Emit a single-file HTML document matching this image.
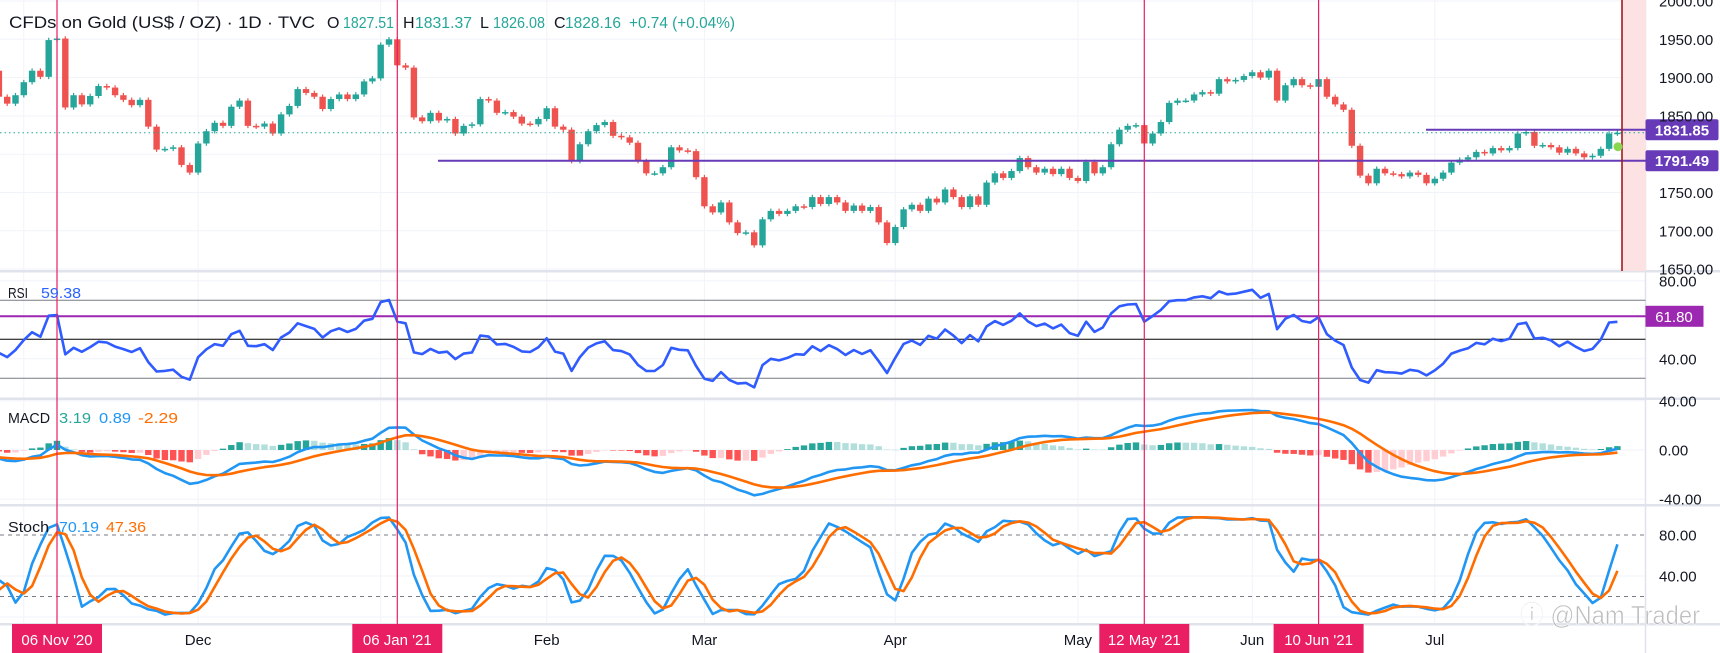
<!DOCTYPE html>
<html><head><meta charset="utf-8"><style>
html,body{margin:0;padding:0;background:#fff;width:1720px;height:653px;overflow:hidden}
svg{display:block;font-family:"Liberation Sans",sans-serif}
</style></head><body>
<svg id="chart" width="1720" height="653" viewBox="0 0 1720 653">
<g id="grid"></g>
<g id="shade"><rect x="1622" y="0" width="24" height="271" fill="#fde2e4"/></g>
<g id="candles"></g>
<g id="ind"></g>
<g id="vlines"></g>
<g id="labels">
<text x="9" y="28" font-size="17" fill="#131722" textLength="306" lengthAdjust="spacingAndGlyphs">CFDs on Gold (US$ / OZ) · 1D · TVC</text>
<g font-size="16">
<text x="327" y="28" fill="#131722">O</text><text x="343" y="28" fill="#26a69a" textLength="51" lengthAdjust="spacingAndGlyphs">1827.51</text>
<text x="403" y="28" fill="#131722">H</text><text x="415" y="28" fill="#26a69a" textLength="57" lengthAdjust="spacingAndGlyphs">1831.37</text>
<text x="480" y="28" fill="#131722">L</text><text x="493" y="28" fill="#26a69a" textLength="52" lengthAdjust="spacingAndGlyphs">1826.08</text>
<text x="554" y="28" fill="#131722">C</text><text x="565" y="28" fill="#26a69a" textLength="56" lengthAdjust="spacingAndGlyphs">1828.16</text>
<text x="629" y="28" fill="#26a69a" textLength="106" lengthAdjust="spacingAndGlyphs">+0.74 (+0.04%)</text>
</g>
<g font-size="15">
<text x="8" y="298" fill="#131722" textLength="20" lengthAdjust="spacingAndGlyphs">RSI</text>
<text x="41" y="298" fill="#2962ff" textLength="40" lengthAdjust="spacingAndGlyphs">59.38</text></g>
<g font-size="15">
<text x="8" y="423" fill="#131722" textLength="42" lengthAdjust="spacingAndGlyphs">MACD</text>
<text x="59" y="423" fill="#26a69a" textLength="32" lengthAdjust="spacingAndGlyphs">3.19</text>
<text x="99" y="423" fill="#2196f3" textLength="32" lengthAdjust="spacingAndGlyphs">0.89</text>
<text x="138" y="423" fill="#ff6d00" textLength="40" lengthAdjust="spacingAndGlyphs">-2.29</text></g>
<g font-size="15">
<text x="8" y="532" fill="#131722" textLength="41" lengthAdjust="spacingAndGlyphs">Stoch</text>
<text x="59" y="532" fill="#2196f3" textLength="40" lengthAdjust="spacingAndGlyphs">70.19</text>
<text x="106" y="532" fill="#ff6d00" textLength="40" lengthAdjust="spacingAndGlyphs">47.36</text></g>
<text x="1520" y="624" font-size="26" fill="rgba(110,110,110,0.45)" stroke="#fff" stroke-width="0.6" textLength="180" lengthAdjust="spacingAndGlyphs">ⓘ @Nam Trader</text>
</g>
<g id="axis"></g>
</svg>
<script>
const closes=[1875,1866,1877,1894,1909,1901,1949,1951,1861,1877,
1865,1876,1889,1887,1877,1871,1864,1871,1836,1806,
1807,1809,1786,1776,1814,1830,1841,1837,1862,1870,
1837,1836,1840,1827,1852,1863,1885,1880,1875,1859,
1872,1878,1872,1878,1895,1899,1943,1950,1916,1913,
1848,1843,1854,1844,1846,1827,1837,1839,1872,1870,
1854,1855,1849,1840,1839,1846,1860,1836,1832,1791,
1813,1830,1838,1842,1824,1822,1815,1791,1775,1775,
1783,1809,1805,1804,1770,1732,1724,1737,1711,1697,
1698,1681,1715,1726,1722,1726,1732,1731,1744,1735,
1744,1737,1726,1733,1726,1731,1711,1684,1705,1728,
1734,1726,1742,1737,1754,1744,1731,1745,1734,1763,
1775,1769,1778,1795,1783,1776,1781,1774,1781,1769,
1765,1790,1775,1783,1813,1832,1837,1838,1814,1827,
1842,1867,1870,1870,1878,1881,1879,1898,1895,1897,
1902,1907,1900,1909,1870,1890,1898,1890,1888,1898,
1875,1865,1858,1811,1772,1762,1781,1775,1774,1771,
1776,1773,1762,1768,1776,1789,1793,1796,1803,1801,
1808,1805,1808,1827,1829,1811,1812,1809,1802,1807,
1801,1796,1798,1807,1827,1828];
const warmup=[1934,1944,1932,1947,1946,1955,1950,1953,1958,1946,1954,1961,1955,1950,1911,1901,1863,1868,1862,1876,1886,1895,1907,1901,1913,1887,1890,1889,1893,1906,1900,1911,1925,1913,1907,1903,1907,1909,1878,1868,1879,1909];
const priceTicks=[2000,1950,1900,1850,1800,1750,1700,1650];
const rsiTicks=[80,40];
const macdTicks=[40,0,-40];
const stochTicks=[80,40];
const hLevels=[1831.85,1791.49];
const months=["Dec","Feb","Mar","Apr","May","Jun","Jul"];
const monthBars=[24,66,85,108,130,151,173];
const gridBars=[3,24,46,66,85,108,130,151,173];
const eventLabels=["06 Nov '20","06 Jan '21","12 May '21","10 Jun '21"];
const eventBars=[7,48,138,159];

const NS="http://www.w3.org/2000/svg";
function el(tag,attrs,parent){const e=document.createElementNS(NS,tag);for(const k in attrs)e.setAttribute(k,attrs[k]);parent.appendChild(e);return e;}
const bx=i=>57+(i-7)*8.3;
const py=p=>39.3+(1950-p)*0.766;
const ry=v=>300.3+(70-v)*1.95;
const my=v=>450-v*1.23;
const sy=v=>535+(80-v)*1.025;
const PR=1645.5;
const G=document.getElementById('grid'),C=document.getElementById('candles'),I=document.getElementById('ind'),V=document.getElementById('vlines'),A=document.getElementById('axis');

// grid
gridBars.forEach(b=>{const l=el('line',{x1:bx(b),x2:bx(b),y1:0,y2:624,stroke:'#f0f3fa','stroke-width':1},G);

});
priceTicks.forEach(p=>{const l=el('line',{x1:0,x2:PR,y1:py(p),y2:py(p),stroke:'#f0f3fa'},G);

});
[80,40].forEach(v=>{el('line',{x1:0,x2:PR,y1:ry(v),y2:ry(v),stroke:'#f0f3fa'},G);});
macdTicks.forEach(v=>{el('line',{x1:0,x2:PR,y1:my(v),y2:my(v),stroke:'#f0f3fa'},G);});
[40,0].forEach(v=>{el('line',{x1:0,x2:PR,y1:sy(v),y2:sy(v),stroke:'#f0f3fa'},G);});
// separators
[271,398.5,505,624].forEach(y=>{const s=el('rect',{x:0,y:y-1,width:1720,height:2.5,fill:'#e0e3eb'},G);

});
el('line',{x1:PR,x2:PR,y1:0,y2:653,stroke:'#e0e3eb','stroke-width':1.5},G);

// candles
let prev=1909;
closes.forEach((c,i)=>{const o=prev;prev=c;const up=c>=o;const col=up?'#26a69a':'#ef5350';
const x=bx(i);const hi=Math.max(o,c)+3,lo=Math.min(o,c)-3;
const g=el('g',{},C);


el('line',{x1:x,x2:x,y1:py(hi),y2:py(lo),stroke:col,'stroke-width':1.2},g);
const t=py(Math.max(o,c)),b=py(Math.min(o,c));
el('rect',{x:x-3.2,y:t,width:6.4,height:Math.max(1.5,b-t),fill:col},g);});

// close dotted line and levels
el('line',{x1:0,x2:PR,y1:py(closes[closes.length-1]),y2:py(closes[closes.length-1]),stroke:'#26a69a','stroke-dasharray':'1.5 3','stroke-width':1},C);
const lvlStart=[1426,438];
hLevels.forEach((p,k)=>{const l=el('line',{x1:lvlStart[k],x2:PR,y1:py(p),y2:py(p),stroke:'#673ab7','stroke-width':2},C);


const r=el('rect',{x:PR,y:py(p)-10.5,width:73,height:21,rx:2,fill:'#673ab7'},A);


const t=el('text',{x:1682,y:py(p)+5.5,'font-size':15,'font-weight':'bold',fill:'#fff','text-anchor':'middle'},A);t.textContent=p.toFixed(2);});
el('line',{x1:1622,x2:1622,y1:0,y2:271,stroke:'#a31b1b','stroke-width':1.6},C);
const dot=el('circle',{cx:1618,cy:146.7,r:4.5,fill:'#8bd650'},C);



// indicators computed from closes
const all=warmup.concat(closes);const W=warmup.length;
function ema(arr,n){const k=2/(n+1);const out=[];arr.forEach((v,i)=>{out.push(i?v*k+out[i-1]*(1-k):v);});return out;}
// RSI
const rsi=new Array(all.length).fill(50);let ag=0,al=0;
for(let i=1;i<all.length;i++){const d=all[i]-all[i-1];const g=Math.max(d,0),l=Math.max(-d,0);
if(i<=14){ag+=g/14;al+=l/14;}else{ag=(ag*13+g)/14;al=(al*13+l)/14;}
rsi[i]=al===0?100:100-100/(1+ag/al);}
// MACD
const e12=ema(all,12),e26=ema(all,26);const macd=all.map((v,i)=>e12[i]-e26[i]);const sig=ema(macd,9);const hist=macd.map((v,i)=>v-sig[i]);
// Stoch
const hiA=all.map((c,i)=>c+3),loA=all.map(c=>c-3);
const raw=all.map((c,i)=>{const s=Math.max(0,i-13);let H=-1e9,L=1e9;for(let j=s;j<=i;j++){H=Math.max(H,hiA[j]);L=Math.min(L,loA[j]);}return 100*(c-L)/(H-L);});
const sma=(a,n)=>a.map((v,i)=>{const s=Math.max(0,i-n+1);let t=0;for(let j=s;j<=i;j++)t+=a[j];return t/(i-s+1);});
const K=sma(raw,3),D=sma(K,3);

// clip
const defs=el('defs',{},document.getElementById('chart'));
[['cR',272,126],['cM',400,104],['cS',506,117]].forEach(([id,y,h])=>{const cp=el('clipPath',{id:id},defs);el('rect',{x:0,y:y,width:PR,height:h},cp);});

// RSI lines
[[70,'#787b86'],[30,'#787b86'],[50,'#000']].forEach(([v,c])=>el('line',{x1:0,x2:PR,y1:ry(v),y2:ry(v),stroke:c,'stroke-width':1},I));
const pl=el('line',{x1:0,x2:PR,y1:ry(61.8),y2:ry(61.8),stroke:'#9c27b0','stroke-width':2},I);


function poly(arr,fy,col,w,clip,name){let d='';for(let i=0;i<closes.length;i++){d+=(i?'L':'M')+bx(i).toFixed(1)+' '+fy(arr[i+W]).toFixed(1);}
const p=el('path',{d:d,fill:'none',stroke:col,'stroke-width':w,'stroke-linejoin':'round','clip-path':'url(#'+clip+')'},I);

}
poly(rsi,ry,'#2f5bff',2.6,'cR','rsi-line');
// MACD hist
for(let i=0;i<closes.length;i++){const h=hist[i+W],hp=hist[i+W-1];
const col=h>=0?(h>hp?'#26a69a':'#b2dfdb'):(h<hp?'#ff5252':'#ffcdd2');
const y0=my(0),y1=my(h);
const r=el('rect',{x:bx(i)-3.2,y:Math.min(y0,y1),width:6.4,height:Math.max(0.5,Math.abs(y1-y0)),fill:col},I);

}
poly(macd,my,'#2196f3',2.6,'cM','macd-line');
poly(sig,my,'#ff6d00',2.6,'cM','signal-line');
// Stoch
[80,20].forEach(v=>el('line',{x1:0,x2:PR,y1:sy(v),y2:sy(v),stroke:'#787b86','stroke-dasharray':'4 4','stroke-width':1},I));
poly(K,sy,'#2196f3',2.6,'cS','stoch-k-line');
poly(D,sy,'#ff6d00',2.6,'cS','stoch-d-line');

// event verticals
eventBars.forEach((b,k)=>{const x=bx(b);const l=el('line',{x1:x,x2:x,y1:0,y2:624,stroke:'#e91e63','stroke-width':1.2},V);


const r=el('rect',{x:x-45,y:624,width:90,height:29,fill:'#e91e63'},V);


const t=el('text',{x:x,y:645,'font-size':15,fill:'#fff','text-anchor':'middle'},V);t.textContent=eventLabels[k];});
months.forEach((m,k)=>{const t=el('text',{x:bx(monthBars[k]),y:645,'font-size':15,fill:'#131722','text-anchor':'middle'},A);


t.textContent=m;});

// axis labels
function axisLabel(v,y,name){const t=el('text',{x:1659,y:y+5.5,'font-size':15,fill:'#131722'},A);


t.textContent=v.toFixed(2);}
priceTicks.forEach(p=>{const y=py(p);if(Math.abs(p-1831.85)>12&&Math.abs(p-1791.49)>12)axisLabel(p,y,'price-tick');});
const r618=el('rect',{x:PR,y:ry(61.8)-10.5,width:58,height:21,fill:'#9c27b0'},A);


const t618=el('text',{x:1674,y:ry(61.8)+5.5,'font-size':15,fill:'#fff','text-anchor':'middle'},A);t618.textContent='61.80';
rsiTicks.forEach(v=>axisLabel(v,ry(v),'rsi-tick'));
macdTicks.forEach(v=>axisLabel(v,my(v),'macd-tick'));
stochTicks.forEach(v=>axisLabel(v,sy(v),'stoch-tick'));
</script>
</body></html>
